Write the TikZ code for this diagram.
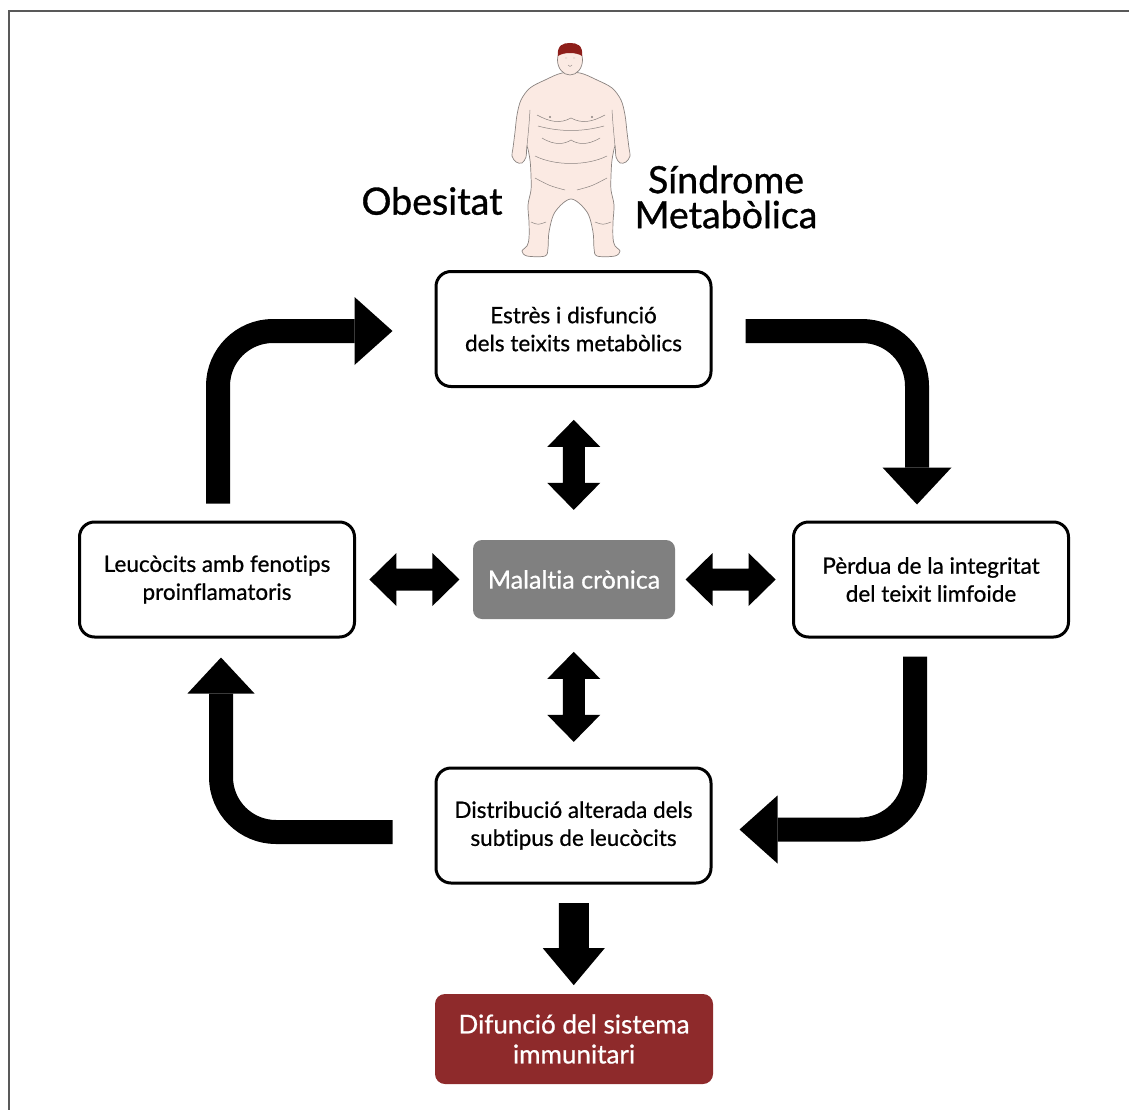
\documentclass[tikz,border=0pt]{standalone}
\usepackage{fontspec}
\setmainfont{Lato}[Ligatures=NoCommon]
\newfontfamily\boxfont{Lato}[Ligatures=NoCommon, FakeBold=0.7]
\newfontfamily\headfont{Lato}[Ligatures=NoCommon, FakeBold=0.9]
\usetikzlibrary{calc}
\definecolor{framegray}{HTML}{595959}
\definecolor{chronic}{HTML}{808080}
\definecolor{immune}{HTML}{8E2A2B}
\definecolor{skin}{HTML}{FBEAE3}
\definecolor{skinline}{HTML}{8A8380}
\definecolor{hair}{HTML}{8E1E1A}
\begin{document}
\begin{tikzpicture}[x=1pt,y=-1pt,
  stepbox/.style={draw, line width=3pt, rounded corners=15pt, fill=white,
    minimum width=275pt, minimum height=115pt, align=center, inner sep=0pt,
    font=\boxfont\fontsize{22.5}{28}\selectfont},
  greybox/.style={fill=chronic, rounded corners=9pt, minimum width=202pt,
    minimum height=79pt, inner sep=0pt, text=white,
    font=\boxfont\fontsize{25}{30}\selectfont},
  redbox/.style={fill=immune, rounded corners=10pt, minimum width=278pt,
    minimum height=90pt, inner sep=0pt, text=white, align=center,
    font=\boxfont\fontsize{26}{30}\selectfont},
  title/.style={inner sep=0pt, align=center, font=\headfont\fontsize{37.5}{35}\selectfont},
  shaft/.style={line width=24pt, rounded corners=55pt},
  pics/vdbl/.style={code={
    \fill (0,-45) -- (26.5,-18) -- (11,-18) -- (11,18) -- (26.5,18) -- (0,45)
      -- (-26.5,18) -- (-11,18) -- (-11,-18) -- (-26.5,-18) -- cycle;}},
  pics/downarrow/.style={code={
    \fill (-15,-41) -- (15,-41) -- (15,4) -- (31,4) -- (0,41) -- (-31,4)
      -- (-15,4) -- cycle;}}
]
\useasboundingbox (0,0) rectangle (1129,1110);

% frame
\draw[framegray, line width=2.6pt] (9,1110) -- (9,11) -- (1129,11);

% ---- figure of an obese person ----
\begin{scope}[skinline, line width=0.7pt]
  \draw[fill=skin] plot[smooth cycle, tension=0.55] coordinates {
    (562,73) (545,80) (530,88) (521,100) (517,115) (515,132) (513,148)
    (512,156) (516,162) (522,163) (526,157) (527,146) (530,160) (531,176)
    (531,190) (528,205) (529,222) (529,238) (527,246) (522,251) (527,256)
    (545,256) (548,248) (549,232) (555,212) (571,199) (587,212) (593,232)
    (594,248) (597,256) (615,256) (620,251) (615,246) (613,238) (613,222)
    (614,205) (611,190) (611,176) (612,160) (615,146) (616,157) (620,163)
    (626,162) (630,156) (629,148) (627,132) (625,115) (621,100) (612,88)
    (597,80) (580,73)};
  \draw[fill=skin] (570,60) ellipse [x radius=12.5, y radius=15];
  % hair
  \fill[hair] (557.8,56) .. controls (557,45) and (563,43) .. (570,43)
    .. controls (577,43) and (583,45) .. (582.2,56)
    .. controls (576,52) and (564,52) .. cycle;
  % face
  \draw[line width=0.4pt] (565,58) -- (567,58) (573,58) -- (575,58)
    (568,65) .. controls (570,67) .. (572,65);
  % body folds
  \draw[line width=0.5pt]
    (530,110) .. controls (529,125) .. (527,146)
    (612,110) .. controls (613,125) .. (615,146)
    (537,115) .. controls (550,122) and (560,124) .. (571,118)
    .. controls (582,124) and (592,122) .. (605,115)
    (538,126) .. controls (560,132) and (582,132) .. (604,126)
    (542,138) .. controls (555,146) and (565,144) .. (571,140)
    .. controls (577,144) and (587,146) .. (600,138)
    (535,156) .. controls (555,166) and (587,166) .. (607,156)
    (535,178) .. controls (550,186) .. (565,190)
    (607,178) .. controls (592,186) .. (577,190)
    (531,222) .. controls (538,225) .. (546,222)
    (595,222) .. controls (603,225) .. (611,222);
  \fill[skinline] (550,117) circle (1.2) (592,117) circle (1.2);
\end{scope}

% ---- titles ----
\node[title] (obes) at (432,201) {Obesitat};
\node[title] (sind) at (726,197) {Síndrome\\Metabòlica};

% ---- boxes ----
\node[stepbox] (T) at (573.5,329) {Estrès i disfunció\\dels teixits metabòlics};
\node[stepbox] (L) at (217,579.5) {Leucòcits amb fenotips\\proinflamatoris};
\node[stepbox] (R) at (931,579.5) {Pèrdua de la integritat\\del teixit limfoide};
\node[stepbox] (B) at (573.5,825.5) {Distribució alterada dels\\subtipus de leucòcits};
\node[greybox] (C) at (574,579.5) {Malaltia crònica};
\node[redbox] (D) at (574,1039) {Difunció del sistema\\immunitari};

% ---- cycle arrows ----
% left box -> top box
\coordinate (a1s) at ($(L.north)+(1,-17)$);
\coordinate (a1t) at ($(T.west)+(-42,2)$);
\draw[shaft] (a1s) |- ($(a1t)+(-38,0)$);
\fill (a1t) -- ++(-38,-34) -- ++(0,68) -- cycle;
% top box -> right box
\coordinate (a2s) at ($(T.east)+(33,2)$);
\coordinate (a2t) at ($(R.north)+(-14,-16)$);
\draw[shaft] (a2s) -| ($(a2t)+(0,-37)$);
\fill (a2t) -- ++(-34.5,-37) -- ++(69,0) -- cycle;
% right box -> bottom box
\coordinate (a3s) at ($(R.south)+(-16,18)$);
\coordinate (a3t) at ($(B.east)+(27,4)$);
\draw[shaft] (a3s) |- ($(a3t)+(38,0)$);
\fill (a3t) -- ++(38,-34) -- ++(0,68) -- cycle;
% bottom box -> left box
\coordinate (a4s) at ($(B.west)+(-42,6.5)$);
\coordinate (a4t) at ($(L.south)+(4,19)$);
\draw[shaft] (a4s) -| ($(a4t)+(0,36)$);
\fill (a4t) -- ++(-33.5,36) -- ++(67,0) -- cycle;

% ---- links with the chronic disease ----
\pic at ($(T.south)!0.5!(C.north)+(0,1)$) {vdbl};
\pic at ($(C.south)!0.5!(B.north)+(0,4)$) {vdbl};
\pic[rotate=90] at ($(L.east)!0.5!(C.west)$) {vdbl};
\pic[rotate=90] at ($(C.east)!0.5!(R.west)+(-3,0)$) {vdbl};

% ---- outcome ----
\pic at ($(B.south)!0.5!(D.north)+(0,5)$) {downarrow};
\end{tikzpicture}
\end{document}
